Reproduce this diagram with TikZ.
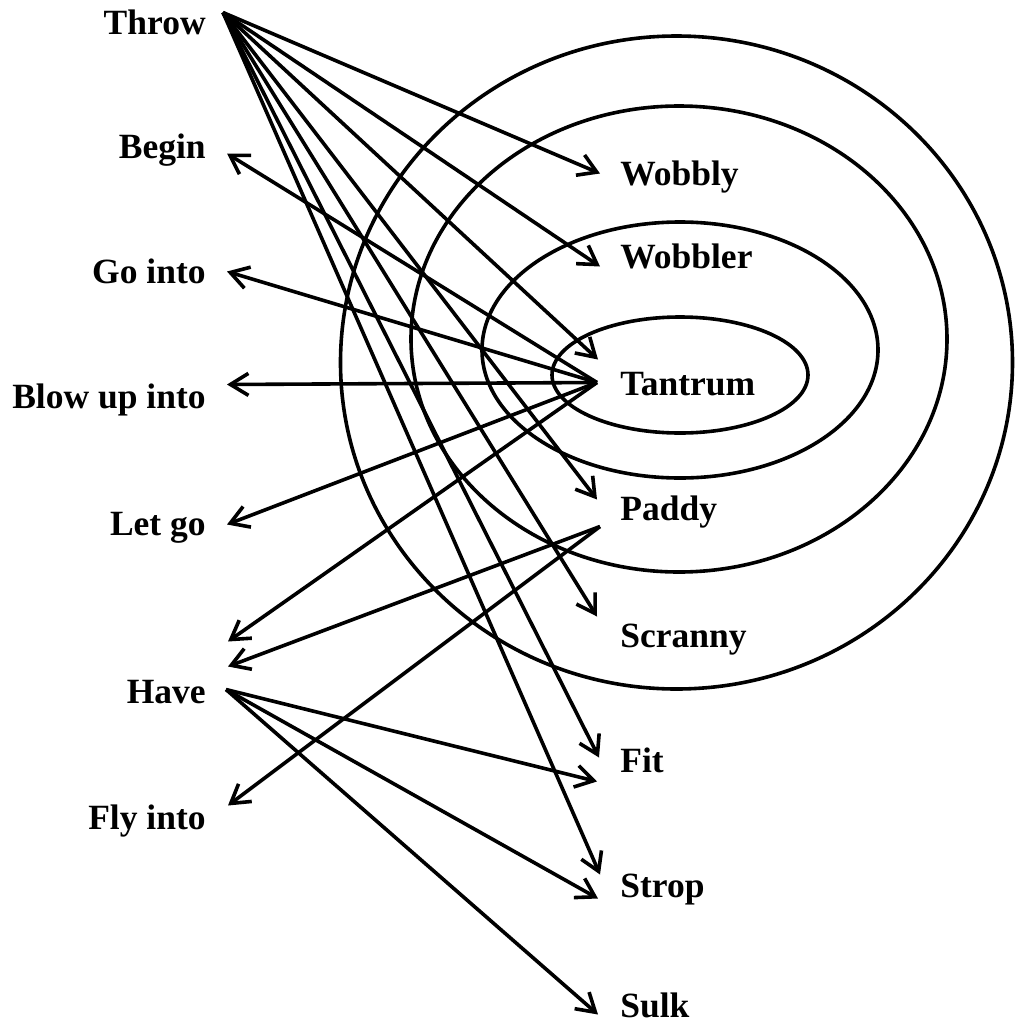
\documentclass[tikz,border=0pt]{standalone}
\usepackage{fontspec}
\setmainfont{Liberation Serif}
\usetikzlibrary{arrows.meta,calc}

\begin{document}
\begin{tikzpicture}[x=0.2mm, y=-0.2mm,
    word/.style={font=\bfseries\fontsize{20.2pt}{24pt}\selectfont, inner sep=0pt, text height=4.6mm, text depth=0pt},
    verb/.style={word, anchor=base east},
    noun/.style={word, anchor=base west},
    ring/.style={line width=0.72mm},
    link/.style={line width=0.72mm, -{Straight Barb[length=3.6mm, width=4.4mm]}}]
    \useasboundingbox (0,0) rectangle (1015,1024);

    % Rings
    \draw[ring] (676.5,362.5) ellipse [x radius=336, y radius=326.5];
    \draw[ring] (679,339) ellipse [x radius=268, y radius=233];
    \draw[ring] (680,350) ellipse [x radius=198, y radius=128];
    \draw[ring] (680,375) ellipse [x radius=128, y radius=58];

    % Verbs
    \node[verb] (throw) at (206,34) {Throw};
    \node[verb] (begin) at (206,158) {Begin};
    \node[verb] (gointo) at (206,283) {Go into};
    \node[verb] (blowup) at (206,408) {Blow up into};
    \node[verb] (letgo) at (206,535) {Let go};
    \node[verb] (have) at (206,703) {Have};
    \node[verb] (flyinto) at (206,829) {Fly into};

    % Nouns
    \node[noun] (wobbly) at (620,185) {Wobbly};
    \node[noun] (wobbler) at (620,268) {Wobbler};
    \node[noun] (tantrum) at (620,395) {Tantrum};
    \node[noun] (paddy) at (620,520) {Paddy};
    \node[noun] (scranny) at (620,647) {Scranny};
    \node[noun] (fit) at (620,772) {Fit};
    \node[noun] (strop) at (620,897) {Strop};
    \node[noun] (sulk) at (620,1017) {Sulk};

    % Throw
    \coordinate (throw-out) at ($(throw.east)+(17,-10)$);
    \draw[link] (throw-out) -- ($(wobbly.west)+(-20,0)$);
    \draw[link] (throw-out) -- ($(wobbler.west)+(-20,10)$);
    \draw[link] (throw-out) -- ($(tantrum.west)+(-22,-24)$);
    \draw[link] (throw-out) -- ($(paddy.west)+(-23,-9)$);
    \draw[link] (throw-out) -- ($(scranny.west)+(-23,-19)$);
    \draw[link] (throw-out) -- ($(fit.west)+(-21,-3)$);
    \draw[link] (throw-out) -- ($(strop.west)+(-20,-11)$);

    % Tantrum
    \coordinate (tantrum-out) at ($(tantrum.west)+(-23,-1)$);
    \draw[link] (tantrum-out) -- ($(begin.east)+(21,7)$);
    \draw[link] (tantrum-out) -- ($(gointo.east)+(21,0)$);
    \draw[link] (tantrum-out) -- ($(blowup.east)+(21,-12)$);
    \draw[link] (tantrum-out) -- ($(letgo.east)+(21,1)$);
    \draw[link] (tantrum-out) -- ($(have.east)+(22,-50)$);

    % Paddy
    \coordinate (paddy-out) at ($(paddy.west)+(-20,18)$);
    \draw[link] (paddy-out) -- ($(have.east)+(22,-25)$);
    \draw[link] (paddy-out) -- ($(flyinto.east)+(22,-12)$);

    % Have
    \coordinate (have-out) at ($(have.east)+(20,-2)$);
    \draw[link] (have-out) -- ($(fit.west)+(-23,21)$);
    \draw[link] (have-out) -- ($(strop.west)+(-22,13)$);
    \draw[link] (have-out) -- ($(sulk.west)+(-22,9)$);
\end{tikzpicture}
\end{document}
